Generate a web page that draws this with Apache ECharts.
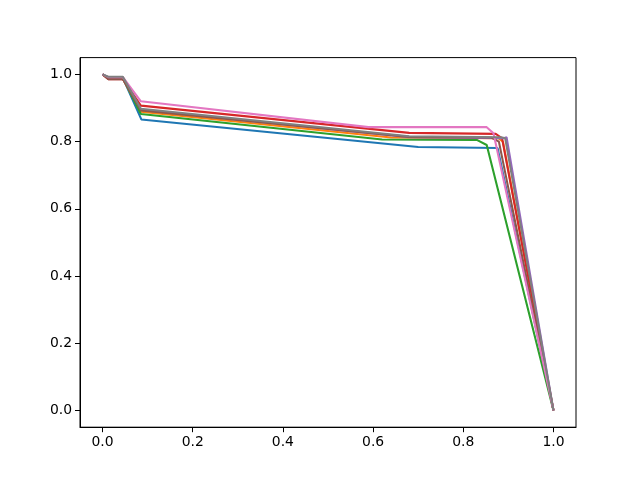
<!DOCTYPE html>
<html>
<head>
<meta charset="utf-8">
<script src="https://cdn.jsdelivr.net/npm/echarts@6/dist/echarts.min.js"></script>
<style>
  html, body { margin: 0; padding: 0; background: #fff; }
  #chart { width: 640px; height: 480px; }
</style>
</head>
<body>
<div id="chart"></div>
<script>
// tick labels
const xTicks = [0, 0.2, 0.4, 0.6, 0.8, 1.0]
const yTicks = [0, 0.2, 0.4, 0.6, 0.8, 1.0]

// series values: [x, y]
const c0 = [[0, 1], [0.013, 0.99], [0.045, 0.99], [0.086, 0.866], [0.70, 0.784], [0.876, 0.781], [1, 0]]
const c1 = [[0, 1], [0.013, 0.987], [0.045, 0.987], [0.085, 0.889], [0.64, 0.812], [0.878, 0.81], [0.888, 0.80], [1, 0]]
const c2 = [[0, 1], [0.013, 0.99], [0.045, 0.99], [0.085, 0.882], [0.62, 0.806], [0.83, 0.805], [0.852, 0.79], [1, 0]]
const c3 = [[0, 1], [0.013, 0.986], [0.045, 0.986], [0.085, 0.907], [0.68, 0.826], [0.872, 0.823], [0.886, 0.81], [1, 0]]
const c4 = [[0, 1], [0.013, 0.99], [0.045, 0.99], [0.085, 0.895], [0.68, 0.813], [0.89, 0.81], [0.896, 0.813], [1, 0]]
const c5 = [[0, 1], [0.013, 0.986], [0.045, 0.986], [0.085, 0.893], [0.68, 0.814], [0.862, 0.812], [0.879, 0.80], [1, 0]]
const c6 = [[0, 1], [0.013, 0.992], [0.045, 0.992], [0.085, 0.92], [0.59, 0.843], [0.852, 0.843], [0.867, 0.825], [1, 0]]
const c7 = [[0, 1], [0.013, 0.993], [0.045, 0.993], [0.085, 0.898], [0.68, 0.816], [0.884, 0.813], [0.893, 0.81], [1, 0]]

const seriesData = [c0, c1, c2, c3, c4, c5, c6, c7]
const colors = ['#1f77b4', '#ff7f0e', '#2ca02c', '#d62728', '#9467bd', '#8c564b', '#e377c2', '#7f7f7f']

const chart = echarts.init(document.getElementById('chart'), null, { renderer: 'canvas' })

const axisCommon = {
  type: 'value',
  min: -0.05,
  max: 1.05,
  axisLine: { show: true, onZero: false, lineStyle: { color: '#000', width: 1 } },
  axisTick: { show: true, inside: false, length: 5, lineStyle: { color: '#000', width: 1 } },
  axisLabel: {
    color: '#000',
    fontFamily: 'DejaVu Sans',
    fontSize: 13.9,
    margin: 8,
    formatter: v => v.toFixed(1),
  },
  splitLine: { show: false },
}

chart.setOption({
  animation: false,
  backgroundColor: '#fff',
  grid: {
    left: 80,
    right: 64,
    top: 57.6,
    bottom: 52.8,
    show: true,
    borderColor: '#000',
    borderWidth: 1,
    containLabel: false,
  },
  xAxis: {
    ...axisCommon,
    axisTick: { ...axisCommon.axisTick, customValues: xTicks },
    axisLabel: { ...axisCommon.axisLabel, customValues: xTicks },
  },
  yAxis: {
    ...axisCommon,
    axisTick: { ...axisCommon.axisTick, customValues: yTicks },
    axisLabel: { ...axisCommon.axisLabel, customValues: yTicks },
  },
  series: seriesData.map((d, i) => ({
    type: 'line',
    data: d,
    showSymbol: false,
    symbol: 'none',
    lineStyle: { color: colors[i], width: 2.08 },
    itemStyle: { color: colors[i] },
  })),
})
</script>
</body>
</html>
